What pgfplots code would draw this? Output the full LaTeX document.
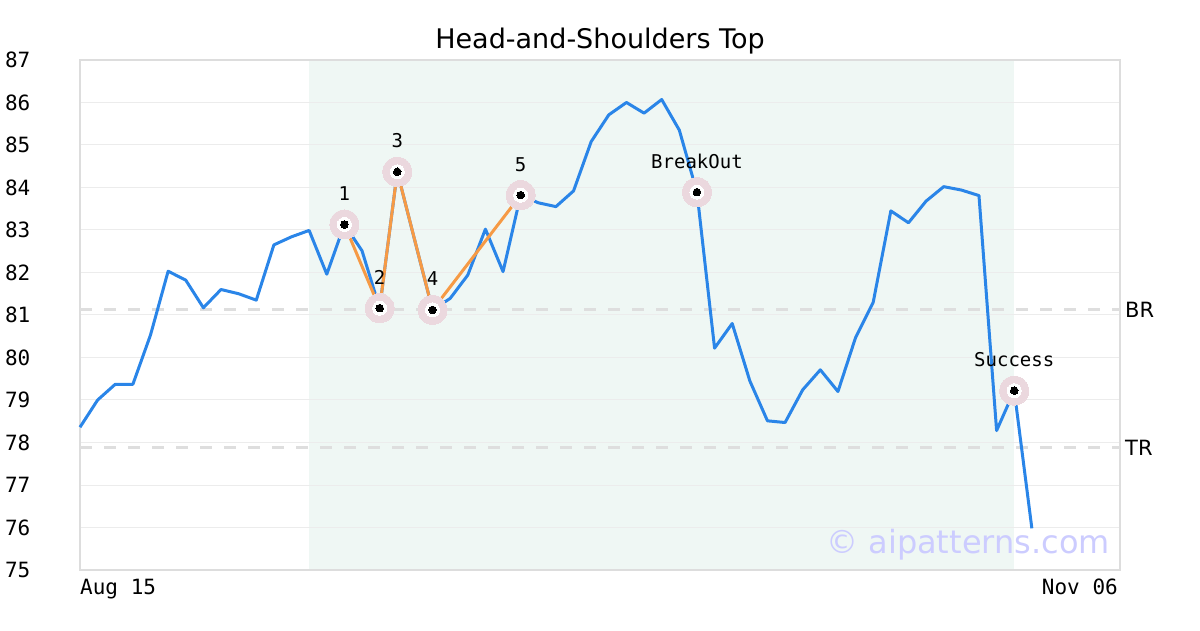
\documentclass[border=0pt]{standalone}
\usepackage{pgfplots}
\pgfplotsset{compat=1.18}
\usepackage{fontspec}
\setmainfont{DejaVu Sans}
\newfontfamily\mono{DejaVu Sans Mono}
\definecolor{lineblue}{RGB}{42,133,232}
\definecolor{lineorange}{RGB}{246,154,69}
\definecolor{bgteal}{RGB}{239,247,244}
\definecolor{framegray}{RGB}{221,221,221}
\definecolor{gridgray}{RGB}{236,236,236}
\definecolor{dashgray}{RGB}{222,222,222}
\definecolor{halo}{RGB}{235,216,222}
\definecolor{wmark}{RGB}{204,204,255}

\pgfplotstableread{
x y
0 78.36
1 79.00
2 79.37
3 79.37
4 80.53
5 82.03
6 81.82
7 81.17
8 81.60
9 81.50
10 81.35
11 82.65
12 82.84
13 82.99
14 81.96
15 83.13
16 82.51
17 81.16
18 84.37
19 82.74
20 81.12
21 81.39
22 81.94
23 83.02
24 82.02
25 83.82
26 83.64
27 83.55
28 83.92
29 85.08
30 85.71
31 86.00
32 85.75
33 86.07
34 85.35
35 83.89
36 80.22
37 80.80
38 79.45
39 78.51
40 78.47
41 79.24
42 79.71
43 79.20
44 80.47
45 81.30
46 83.45
47 83.17
48 83.68
49 84.02
50 83.94
51 83.81
52 78.28
53 79.22
54 75.98
}\pricedata

\pgfplotstableread{
x y label
15 83.13 1
17 81.16 2
18 84.37 3
20 81.12 4
25 83.82 5
35 83.89 BreakOut
53 79.22 Success
}\points

\pgfplotstableread{
x y
15 83.13
17 81.16
18 84.37
20 81.12
25 83.82
}\pattern

\begin{document}
\begin{tikzpicture}
\begin{axis}[
  set layers,
  at={(80pt,60pt)}, anchor=south west,
  scale only axis, width=1040pt, height=510pt,
  xmin=0, xmax=59, ymin=75, ymax=87,
  ytick={75,76,...,87},
  xtick={0}, xticklabels={Aug 15},
  extra x ticks={59}, extra x tick labels={Nov 06},
  extra x tick style={xmajorgrids=false, xticklabel style={anchor=north east, xshift=-2pt}},
  xticklabel style={anchor=north west, inner sep=0pt, yshift=-9pt, font=\mono\fontsize{21}{21}\selectfont},
  yticklabel style={anchor=east, inner sep=0pt, xshift=-49.5pt, font=\mono\fontsize{21}{21}\selectfont},
  /pgf/number format/assume math mode=true,
  major tick length=0pt,
  ymajorgrids, xmajorgrids=false,
  major grid style={draw=gridgray, line width=1pt},
  axis line style={draw=framegray, line width=2.5pt},
  clip=false,
  title={Head-and-Shoulders Top},
  title style={anchor=base, yshift=5pt, inner sep=0pt, font=\fontsize{27}{27}\selectfont},
]
\addplot[on layer=axis background, fill=bgteal, draw=none, forget plot] coordinates {(13,75) (53,75) (53,87) (13,87)};
\addplot[draw=dashgray, line width=3pt, dash pattern=on 12pt off 12pt, mark=none, forget plot] coordinates {(0,81.12) (59,81.12)};
\addplot[draw=dashgray, line width=3pt, dash pattern=on 12pt off 12pt, mark=none, forget plot] coordinates {(0,77.88) (59,77.88)};
\addplot[draw=lineblue, line width=3pt, mark=none, line join=round] table[x=x,y=y] {\pricedata};
\addplot[draw=lineorange, line width=3pt, mark=none, line join=round] table[x=x,y=y] {\pattern};
\addplot[color=halo, only marks, mark=*, mark size=14.5pt, mark options={draw=halo, fill=halo, line width=0pt}] table[x=x,y=y] {\points};
\addplot[color=white, only marks, mark=*, mark size=7pt, mark options={draw=white, fill=white, line width=0pt}] table[x=x,y=y] {\points};
\addplot[color=black, only marks, mark=*, mark size=3.8pt, mark options={draw=black, fill=black, line width=0pt},
  nodes near coords, point meta=explicit symbolic,
  nodes near coords style={anchor=base, inner sep=0pt, yshift=24pt, font=\mono\fontsize{19}{19}\selectfont, text=black}]
  table[x=x,y=y,meta=label] {\points};
\node[anchor=base west, inner sep=0pt, font=\fontsize{21}{21}\selectfont, xshift=5pt, yshift=-8pt] at (axis cs:59,81.12) {BR};
\node[anchor=base west, inner sep=0pt, font=\fontsize{21}{21}\selectfont, xshift=5pt, yshift=-8pt] at (axis cs:59,77.88) {TR};
\node[anchor=base east, inner sep=0pt, text=wmark, font=\fontsize{32}{32}\selectfont] at (rel axis cs:0.9904,0.0333) {© aipatterns.com};
\end{axis}
\pgfresetboundingbox
\path[use as bounding box] (0pt,0pt) rectangle (1200pt,630pt);
\end{tikzpicture}
\end{document}
